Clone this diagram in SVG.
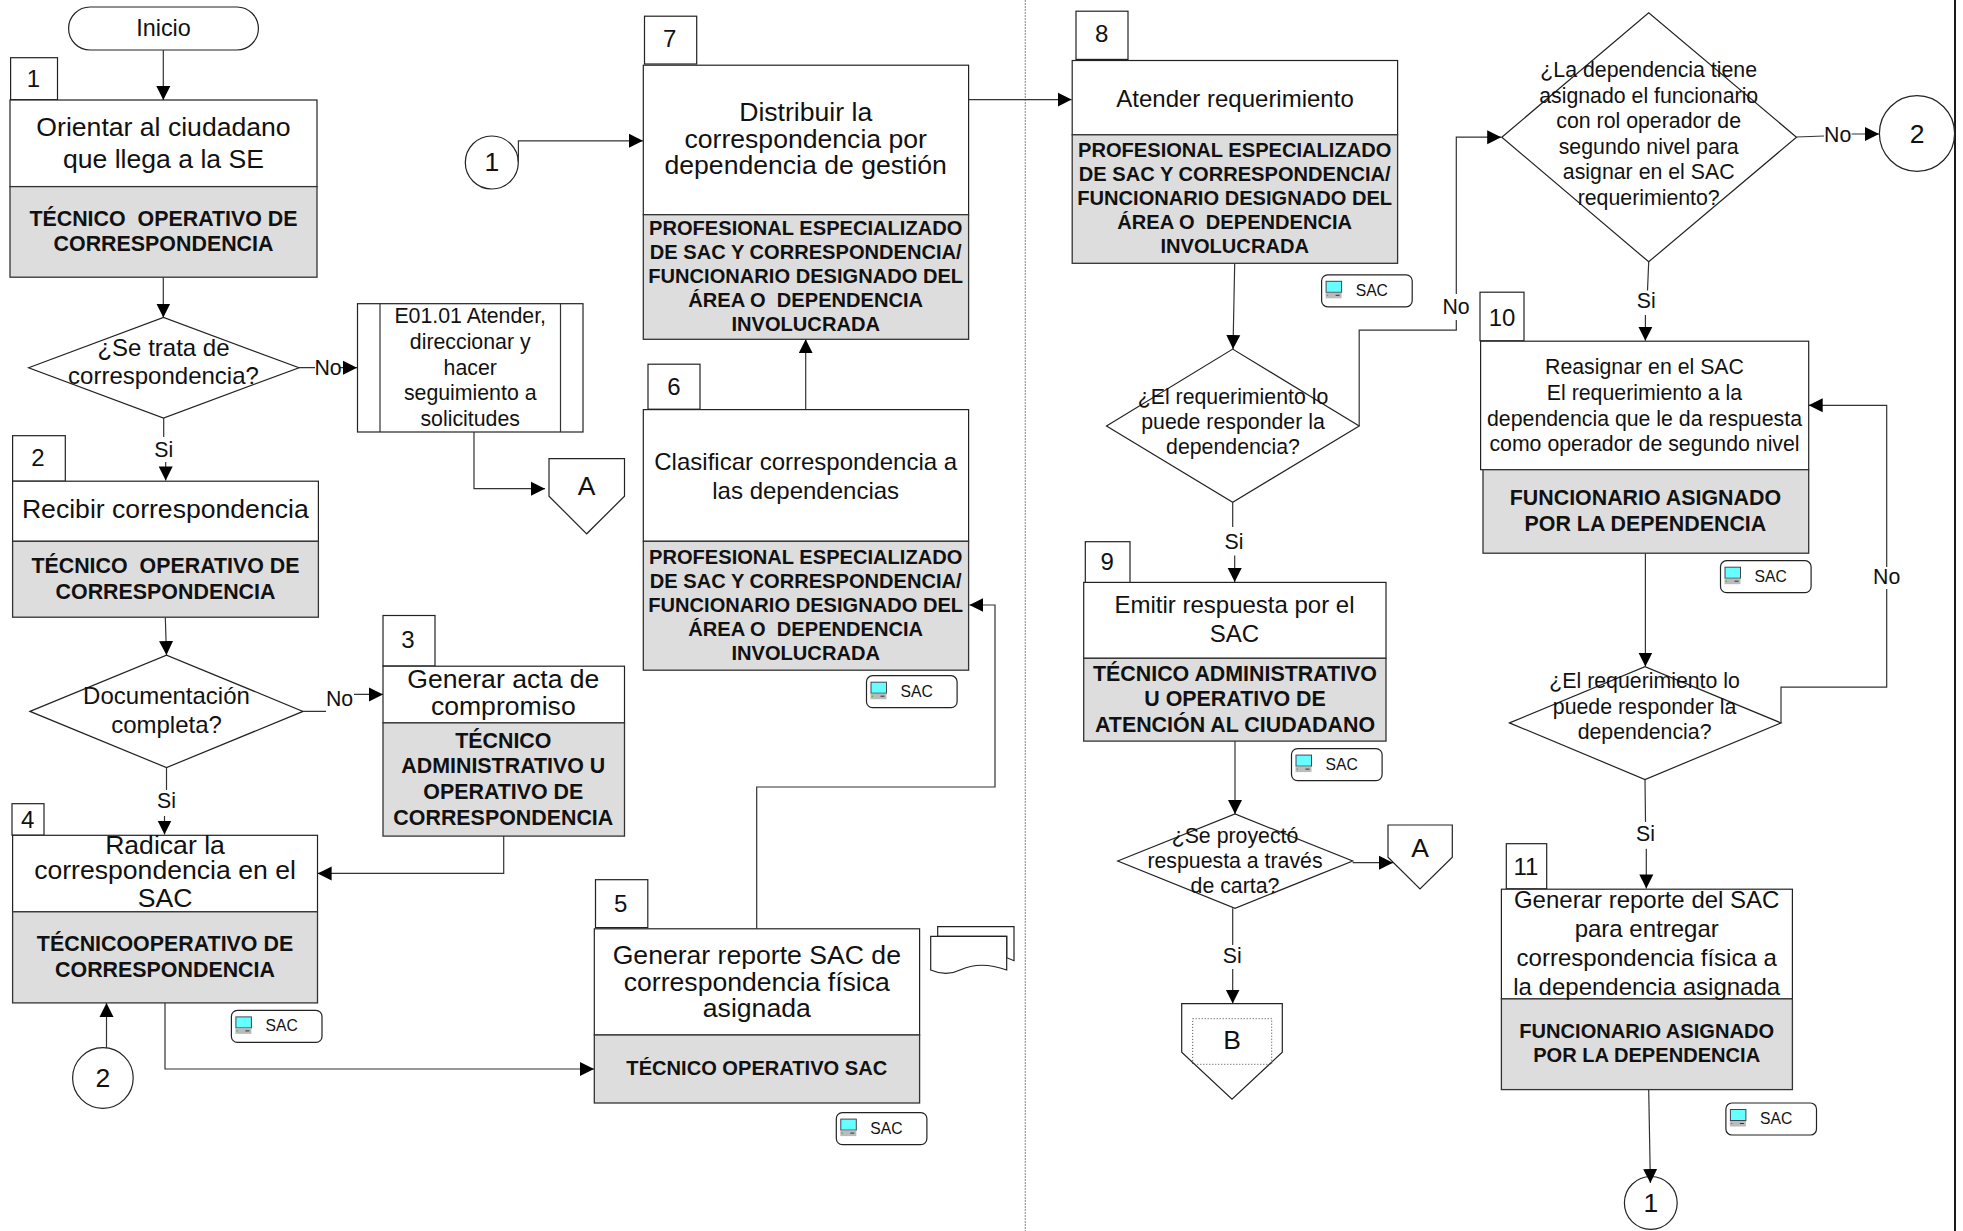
<svg xmlns="http://www.w3.org/2000/svg" width="1963" height="1231" viewBox="0 0 1963 1231">
<style>
text{font-family:"Liberation Sans",Arial,sans-serif;fill:#111;text-anchor:middle;white-space:pre}
.s{fill:#fff;stroke:#222;stroke-width:1.2}
.g{fill:#ddd;stroke:#333;stroke-width:1.3}
.l{fill:none;stroke:#333;stroke-width:1.2}
.f27{font-size:26.6px}.f24{font-size:24px}.f21{font-size:21.3px}.f16{font-size:15.7px}.n{font-size:24px}.c{font-size:26.5px}
.r{font-weight:bold;font-size:21.4px}.r2{font-weight:bold;font-size:20.1px}
</style>
<defs>
<marker id="a" markerUnits="userSpaceOnUse" markerWidth="15" markerHeight="16" refX="14" refY="7.5" orient="auto"><path d="M0 .5L14 7.5L0 14.5Z" fill="#000"/></marker>
<g id="tag">
<rect class="s" x="0" y="0" width="90.6" height="32" rx="6"/>
<rect x="4.5" y="6.5" width="15.5" height="11" fill="#6ff" stroke="#445" stroke-width="1"/>
<rect x="4" y="18" width="16" height="5.5" fill="#bbb"/>
<rect x="5" y="20" width="1.5" height="1" fill="#0c0"/><rect x="14" y="20" width="4" height="1" fill="#333"/>
<text class="f16" x="50.2" y="21">SAC</text>
</g>
</defs>
<rect width="1963" height="1231" fill="#fff"/>
<path id="divider" d="M1025.3 0V1231" fill="none" stroke="#999" stroke-width="1.2" stroke-dasharray="2 1"/>
<path id="edge" d="M1955 0V1231" fill="none" stroke="#000" stroke-width="1.8"/>

<g id="inicio"><rect class="s" x="68.6" y="7" width="189.8" height="43" rx="21.5"/><text x="163.5" y="36" style="font-size:23.4px">Inicio</text></g>

<g id="n1"><rect class="s" x="10.6" y="57.7" width="46.9" height="42"/><text class="n" x="33.5" y="87">1</text>
<rect class="s" x="10" y="100" width="307" height="86.6"/><rect class="g" x="10" y="186.6" width="307" height="90.6"/>
<text class="f27" x="163.5" y="136.4">Orientar al ciudadano</text><text class="f27" x="163.5" y="168">que llega a la SE</text>
<text class="r" x="163.5" y="226.4">TÉCNICO  OPERATIVO DE</text><text class="r" x="163.5" y="250.9">CORRESPONDENCIA</text></g>

<g id="d1"><path class="s" d="M28.6 367.7L163.5 317.5L299 367.7L163.5 418Z"/><text class="f24" x="163.5" y="355.9">¿Se trata de</text><text class="f24" x="163.5" y="383.5">correspondencia?</text></g>

<g id="e0101"><rect class="s" x="357.5" y="303.7" width="225.5" height="128.3"/><path class="l" d="M380 303.7V432M560.5 303.7V432"/>
<text class="f21" x="470.2" y="323">E01.01 Atender,</text><text class="f21" x="470.2" y="348.5">direccionar y</text><text class="f21" x="470.2" y="374.5">hacer</text><text class="f21" x="470.2" y="400">seguimiento a</text><text class="f21" x="470.2" y="425.5">solicitudes</text></g>

<g id="offA1"><path class="s" d="M549 458.7H624.5V496.2L586.7 533.8L549 496.2Z"/><text class="c" x="586.7" y="494.5">A</text></g>

<g id="n2"><rect class="s" x="12.6" y="435.7" width="52.7" height="45.5"/><text class="n" x="38" y="466">2</text>
<rect class="s" x="12.6" y="481.2" width="305.8" height="60.1"/><rect class="g" x="12.6" y="541.3" width="305.8" height="75.9"/>
<text class="f27" x="165.3" y="518">Recibir correspondencia</text>
<text class="r" x="165.5" y="573.1">TÉCNICO  OPERATIVO DE</text><text class="r" x="165.5" y="598.7">CORRESPONDENCIA</text></g>

<g id="d2"><path class="s" d="M30 711.4L166.5 655.1L303 711.4L166.5 767.6Z"/><text class="f24" x="166.5" y="703.9">Documentación</text><text class="f24" x="166.5" y="732.8">completa?</text></g>

<g id="n3"><rect class="s" x="383" y="615.5" width="52" height="50.5"/><text class="n" x="408" y="648">3</text>
<rect class="s" x="383" y="666.2" width="241.5" height="56.7"/><rect class="g" x="383" y="722.9" width="241.5" height="113.2"/>
<text class="f27" x="503.3" y="688">Generar acta de</text><text class="f27" x="503.3" y="715">compromiso</text>
<text class="r" x="503.3" y="748.3">TÉCNICO</text><text class="r" x="503.3" y="773.2">ADMINISTRATIVO U</text><text class="r" x="503.3" y="799">OPERATIVO DE</text><text class="r" x="503.3" y="825.1">CORRESPONDENCIA</text></g>

<g id="n4"><rect class="s" x="12" y="803.7" width="32" height="31.5"/><text class="n" x="27.8" y="827.5">4</text>
<rect class="s" x="12.6" y="835.3" width="304.9" height="76.5"/><rect class="g" x="12.6" y="911.8" width="304.9" height="91.1"/>
<text class="f27" x="165" y="853.6">Radicar la</text><text class="f27" x="165" y="879.3">correspondencia en el</text><text class="f27" x="165" y="907">SAC</text>
<text class="r" x="165" y="951">TÉCNICOOPERATIVO DE</text><text class="r" x="165" y="977.3">CORRESPONDENCIA</text></g>

<g id="tag4" transform="translate(231.4 1010.4)"><use href="#tag"/></g>
<g id="circle2a"><circle class="s" cx="102.9" cy="1078" r="30.3"/><text class="c" x="102.9" y="1086.5">2</text></g>

<g id="n5"><rect class="s" x="595.5" y="879.7" width="52.3" height="47.9"/><text class="n" x="620.8" y="911.5">5</text>
<rect class="s" x="594.3" y="928.8" width="325.3" height="106.2"/><rect class="g" x="594.3" y="1035" width="325.3" height="68"/>
<text class="f27" x="756.8" y="963.7">Generar reporte SAC de</text><text class="f27" x="756.8" y="990.5">correspondencia física</text><text class="f27" x="756.8" y="1016.7">asignada</text>
<text class="r2" x="756.8" y="1075">TÉCNICO OPERATIVO SAC</text></g>

<g id="doc"><path class="s" d="M937.7 936.3V926.7H1014V960.7L1006.7 957.7V936.3Z"/><path class="s" d="M930.7 936.3H1006.7V970C990 964 975 963 960 970C950 975 940 974 930.7 970Z"/></g>
<g id="tag5" transform="translate(836.3 1112.6)"><use href="#tag"/></g>

<g id="n6"><rect class="s" x="648" y="364.2" width="52" height="45"/><text class="n" x="674" y="395">6</text>
<rect class="s" x="643.3" y="409.6" width="325.3" height="131.7"/><rect class="g" x="643.3" y="541.3" width="325.3" height="128.9"/>
<text class="f24" x="805.7" y="469.7">Clasificar correspondencia a</text><text class="f24" x="805.7" y="499">las dependencias</text>
<text class="r2" x="805.7" y="564.2">PROFESIONAL ESPECIALIZADO</text><text class="r2" x="805.7" y="588.1">DE SAC Y CORRESPONDENCIA/</text><text class="r2" x="805.7" y="612.2">FUNCIONARIO DESIGNADO DEL</text><text class="r2" x="805.7" y="636.2">ÁREA O  DEPENDENCIA</text><text class="r2" x="805.7" y="660">INVOLUCRADA</text></g>
<g id="tag6" transform="translate(866.5 675.7)"><use href="#tag"/></g>

<g id="n7"><rect class="s" x="644.5" y="16.2" width="52.2" height="47.8"/><text class="n" x="669.8" y="47">7</text>
<rect class="s" x="643.3" y="65.2" width="325.3" height="149.5"/><rect class="g" x="643.3" y="214.7" width="325.3" height="124.6"/>
<text class="f27" x="805.7" y="120.6">Distribuir la</text><text class="f27" x="805.7" y="147.5">correspondencia por</text><text class="f27" x="805.7" y="174">dependencia de gestión</text>
<text class="r2" x="805.7" y="235.4">PROFESIONAL ESPECIALIZADO</text><text class="r2" x="805.7" y="259.1">DE SAC Y CORRESPONDENCIA/</text><text class="r2" x="805.7" y="283.2">FUNCIONARIO DESIGNADO DEL</text><text class="r2" x="805.7" y="306.9">ÁREA O  DEPENDENCIA</text><text class="r2" x="805.7" y="331">INVOLUCRADA</text></g>

<g id="circle1a"><circle class="s" cx="491.8" cy="162.5" r="26.5"/><text class="c" x="491.8" y="170.5">1</text></g>

<g id="n8"><rect class="s" x="1076" y="11.2" width="52" height="48.2"/><text class="n" x="1101.6" y="42">8</text>
<rect class="s" x="1072.2" y="60.5" width="325.4" height="74.3"/><rect class="g" x="1072.2" y="134.8" width="325.4" height="128.5"/>
<text class="f24" x="1235" y="107">Atender requerimiento</text>
<text class="r2" x="1234.7" y="157.1">PROFESIONAL ESPECIALIZADO</text><text class="r2" x="1234.7" y="181.2">DE SAC Y CORRESPONDENCIA/</text><text class="r2" x="1234.7" y="205.2">FUNCIONARIO DESIGNADO DEL</text><text class="r2" x="1234.7" y="229">ÁREA O  DEPENDENCIA</text><text class="r2" x="1234.7" y="253.2">INVOLUCRADA</text></g>
<g id="tag8" transform="translate(1321.6 274.8)"><use href="#tag"/></g>

<g id="d3"><path class="s" d="M1106.5 425.9L1232.7 349.1L1359.2 425.9L1232.7 502.2Z"/><text class="f21" x="1233" y="403.7">¿El requerimiento lo</text><text class="f21" x="1233" y="429.4">puede responder la</text><text class="f21" x="1233" y="454.3">dependencia?</text></g>

<g id="n9"><rect class="s" x="1085.3" y="541.7" width="44.7" height="42.3"/><text class="n" x="1107.3" y="570">9</text>
<rect class="s" x="1083.7" y="582.4" width="302.3" height="75.9"/><rect class="g" x="1083.7" y="658.3" width="302.3" height="82.8"/>
<text class="f24" x="1234.5" y="613">Emitir respuesta por el</text><text class="f24" x="1234.5" y="642">SAC</text>
<text class="r" x="1235" y="681">TÉCNICO ADMINISTRATIVO</text><text class="r" x="1235" y="706.3">U OPERATIVO DE</text><text class="r" x="1235" y="732">ATENCIÓN AL CIUDADANO</text></g>
<g id="tag9" transform="translate(1291.5 748.6)"><use href="#tag"/></g>

<g id="d6"><path class="s" d="M1117.7 861L1235 814L1352.7 861L1235 908.3Z"/><text class="f21" x="1235" y="842.7">¿Se proyectó</text><text class="f21" x="1235" y="868.3">respuesta a través</text><text class="f21" x="1235" y="893.3">de carta?</text></g>
<g id="offA2"><path class="s" d="M1388 825H1452.3V857.3L1420 889L1388 857.3Z"/><text class="c" x="1420" y="856.7">A</text></g>
<g id="offB"><path class="s" d="M1181.7 1003.7H1282.3V1052.3L1232 1099.3L1181.7 1052.3Z"/><rect x="1192.7" y="1018.7" width="79" height="45.6" fill="none" stroke="#444" stroke-width="1" stroke-dasharray="1 2"/><text class="c" x="1232" y="1049.3">B</text></g>

<g id="d4"><path class="s" d="M1501.8 137.2L1648.7 12.7L1796.5 137.2L1648.7 261.8Z"/>
<text class="f21" x="1648.7" y="77">¿La dependencia tiene</text><text class="f21" x="1648.7" y="102.8">asignado el funcionario</text><text class="f21" x="1648.7" y="128.3">con rol operador de</text><text class="f21" x="1648.7" y="153.8">segundo nivel para</text><text class="f21" x="1648.7" y="179.3">asignar en el SAC</text><text class="f21" x="1648.7" y="204.7">requerimiento?</text></g>
<g id="circle2b"><ellipse class="s" cx="1917" cy="133.5" rx="37.6" ry="37.8"/><text class="c" x="1917" y="143">2</text></g>

<g id="n10"><rect class="s" x="1480" y="292.2" width="44" height="48.6"/><text class="n" x="1502" y="326">10</text>
<rect class="s" x="1480.6" y="341.2" width="328.1" height="128.5"/><rect class="g" x="1483" y="469.7" width="325.7" height="83.5"/>
<text class="f21" x="1644.5" y="374">Reasignar en el SAC</text><text class="f21" x="1644.5" y="399.7">El requerimiento a la</text><text class="f21" x="1644.5" y="425.5">dependencia que le da respuesta</text><text class="f21" x="1644.5" y="451.1">como operador de segundo nivel</text>
<text class="r" x="1645.4" y="505">FUNCIONARIO ASIGNADO</text><text class="r" x="1645.4" y="530.6">POR LA DEPENDENCIA</text></g>
<g id="tag10" transform="translate(1720.5 560.7)"><use href="#tag"/></g>

<g id="d5"><path class="s" d="M1509.5 722.9L1645 666.6L1781 722.9L1645 779.5Z"/><text class="f21" x="1644.6" y="688.3">¿El requerimiento lo</text><text class="f21" x="1644.6" y="714">puede responder la</text><text class="f21" x="1644.6" y="739">dependencia?</text></g>

<g id="n11"><rect class="s" x="1506.3" y="843.7" width="40.4" height="45.1"/><text class="n" x="1525.9" y="875">11</text>
<rect class="s" x="1501.4" y="889.2" width="291" height="109.7"/><rect class="g" x="1501.4" y="998.9" width="291" height="90.7"/>
<text class="f24" x="1646.7" y="907.8">Generar reporte del SAC</text><text class="f24" x="1646.7" y="937">para entregar</text><text class="f24" x="1646.7" y="966">correspondencia física a</text><text class="f24" x="1646.7" y="995">la dependencia asignada</text>
<text class="r2" x="1646.7" y="1038.2">FUNCIONARIO ASIGNADO</text><text class="r2" x="1646.7" y="1062">POR LA DEPENDENCIA</text></g>
<g id="tag11" transform="translate(1725.9 1103)"><use href="#tag"/></g>
<g id="circle1b"><circle class="s" cx="1650.8" cy="1202.9" r="26.4"/><text class="c" x="1650.8" y="1212">1</text></g>

<g id="connectors">
<path class="l" marker-end="url(#a)" d="M163.3 50V100"/>
<path class="l" marker-end="url(#a)" d="M163.3 277.2V317.5"/>
<path class="l" marker-end="url(#a)" d="M299 367.7H315M340 367.7H357"/>
<path class="l" marker-end="url(#a)" d="M163.7 418V437M165.7 462V480.4"/>
<path class="l" marker-end="url(#a)" d="M474 432V488.7H545"/>
<path class="l" marker-end="url(#a)" d="M165.3 617.2L166.5 655.1"/>
<path class="l" marker-end="url(#a)" d="M303 711.4H326M354 694.4H383"/>
<path class="l" marker-end="url(#a)" d="M166.5 767.6V790M164.5 816V834.5"/>
<path class="l" marker-end="url(#a)" d="M503.7 836.1V873.4H317.6"/>
<path class="l" marker-end="url(#a)" d="M106.5 1048V1002.9"/>
<path class="l" marker-end="url(#a)" d="M165 1002.9V1069H594"/>
<path class="l" marker-end="url(#a)" d="M756.7 928.8V787H995V605H969.4"/>
<path class="l" marker-end="url(#a)" d="M805.7 409.6V339.3"/>
<path class="l" marker-end="url(#a)" d="M518.4 162V140.8H642.9"/>
<path class="l" marker-end="url(#a)" d="M968.6 99.6H1071.6"/>
<path class="l" marker-end="url(#a)" d="M1234.7 263.3L1233 349"/>
<path class="l" marker-end="url(#a)" d="M1232.7 502.2V527M1234.7 555.5V582"/>
<path class="l" marker-end="url(#a)" d="M1359.2 425.9V330.2H1456.3V320M1456.3 294V137.2H1501.2"/>
<path class="l" marker-end="url(#a)" d="M1796.5 137L1824 136M1851.6 134H1879"/>
<path class="l" marker-end="url(#a)" d="M1648.7 261.8L1647.5 290.6M1645.4 315V340.8"/>
<path class="l" marker-end="url(#a)" d="M1645.4 553.2V666.6"/>
<path class="l" marker-end="url(#a)" d="M1781 722.9V687.2H1886.7V589M1886.7 567V405.3H1808.7"/>
<path class="l" marker-end="url(#a)" d="M1645 779.5L1645.5 822M1646.3 848.8V888.4"/>
<path class="l" marker-end="url(#a)" d="M1648.7 1089.6L1650.4 1183"/>
<path class="l" marker-end="url(#a)" d="M1235 741V814"/>
<path class="l" marker-end="url(#a)" d="M1352.7 862.7H1393"/>
<path class="l" marker-end="url(#a)" d="M1232.7 908.3V945M1232.7 969V1003.5"/>
<g class="f21">
<text x="328" y="374.5">No</text><text x="339.6" y="706">No</text><text x="1456" y="313.5">No</text><text x="1837.7" y="142">No</text><text x="1886.7" y="584">No</text>
<text x="163.7" y="456.5">Si</text><text x="166.5" y="808">Si</text><text x="1234" y="548.5">Si</text><text x="1646.3" y="307.5">Si</text><text x="1645.5" y="840.5">Si</text><text x="1232.3" y="963">Si</text>
</g>
</g>
</svg>
